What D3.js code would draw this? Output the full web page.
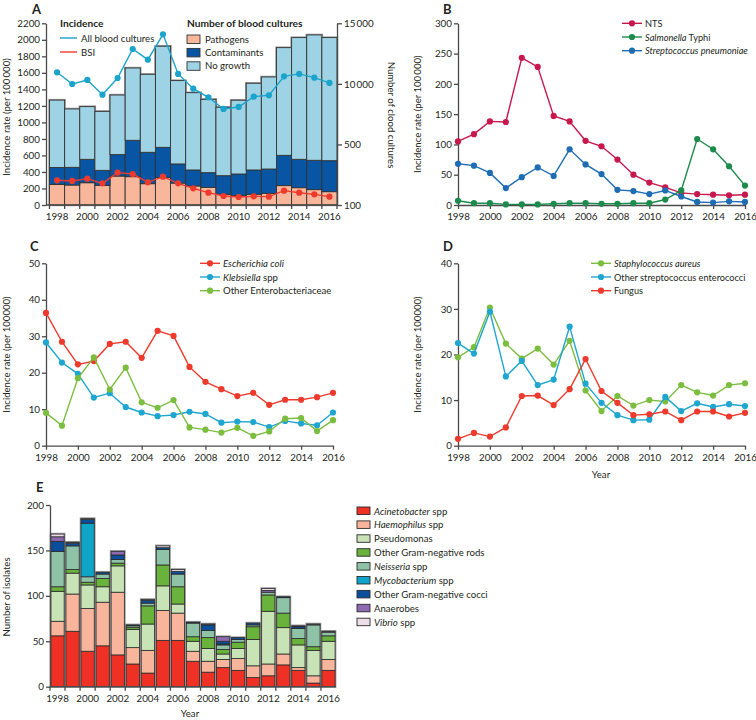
<!DOCTYPE html>
<html><head><meta charset="utf-8">
<script src="https://cdn.jsdelivr.net/npm/d3@7"></script>
<style>
body{margin:0;background:#fff}
svg text{font-family:Lato,"Open Sans",sans-serif;fill:#231f20}
.ax path,.ax line{stroke:#4a4a4a;stroke-width:1.3}
.ax text{font-size:9.8px}
</style></head><body>
<svg id="c" width="756" height="720"></svg>
<script>
// ---------- data ----------
const years = [1998,1999,2000,2001,2002,2003,2004,2005,2006,2007,2008,2009,2010,2011,2012,2013,2014,2015,2016];
const evenYears = [1998,2000,2002,2004,2006,2008,2010,2012,2014,2016];

// Panel A: number of blood cultures (right axis) and incidence (left axis)
const pathogens    = [1700,1650,1840,1620,2390,2340,1760,2280,1810,1570,1460,880,770,880,960,1600,1430,1270,1100];
const contaminants = [1400,1460,1930,1240,1770,3000,2590,2480,1580,1320,1210,1540,1790,2010,2010,2500,2340,2420,2560];
const noGrowth     = [5560,4820,4350,4870,4920,5970,6440,8350,6880,6380,6050,5650,6090,7160,7600,8890,10050,10350,10160];
const incAllCultures = [1607,1465,1514,1336,1538,1889,1760,2067,1587,1409,1304,1163,1187,1312,1328,1558,1587,1542,1478];
const incBSI         = [299,291,319,262,392,375,275,343,262,202,149,109,97,105,101,174,149,129,101];
const leftTicksA  = [0,200,400,600,800,1000,1200,1400,1600,1800,2000,2200];
const rightTickValsA = [0,5000,10000,15000];
const rightTickLabelsA = ["100","500","10\u2009000","15\u2009000"];

// Panel B
const nts    = [105,117,138,137,243,228,147,138,106,97,75,50,37,29,20,18,17,16,17];
const typhi  = [7,3,3,1,1,1,2,3,3,2,2,3,3,9,24,109,92,64,32];
const pneumo = [68,65,53,28,46,62,48,92,67,51,25,23,18,24,14,5,4,6,5];
const ticksB = [0,50,100,150,200,250,300];

// Panel C
const ecoli    = [36.4,28.5,22.3,23.2,27.9,28.5,24.1,31.5,30.1,21.6,17.5,15.5,13.6,14.5,11.2,12.6,12.6,13.3,14.5];
const kleb     = [28.3,22.8,19.7,13.2,14.4,10.6,9.1,8.1,8.4,9.3,8.7,6.3,6.6,6.5,5.1,6.8,6.1,5.6,9.1];
const otherEnt = [9.0,5.5,18.5,24.2,15.4,21.4,11.9,10.4,12.5,5.0,4.4,3.6,4.9,2.7,3.9,7.4,7.6,4.0,7.0];
const ticksC = [0,10,20,30,40,50];

// Panel D
const staph  = [19.4,21.6,30.3,22.4,19.1,21.3,17.8,23.0,12.1,7.6,10.9,8.8,10.0,9.7,13.3,11.7,11.0,13.3,13.7];
const strep  = [22.5,20.2,29.4,15.2,18.6,13.3,14.5,26.1,13.6,9.4,6.7,5.6,5.7,10.7,7.6,9.3,8.5,9.1,8.7];
const fungus = [1.5,2.8,2.0,4.0,10.9,11.0,8.9,12.4,19.0,12.0,9.4,6.7,6.9,7.5,5.6,7.5,7.5,6.4,7.2];
const ticksD = [0,10,20,30,40];

// Panel E: number of isolates
const acinetobacter = [56,61,39,45,35,25,15,51,51,28,16,21,18,10,12,24,18,4,18];
const haemophilus   = [16,41,47,48,69,18,25,33,30,11,12,9,13,13,13,12,3,8,12];
const pseudomonas   = [33,23,26,17,29,20,29,27,10,11,14,6,11,29,58,29,25,28,20];
const otherGNRods   = [5,4,3,9,3,2,20,23,19,5,12,5,7,14,18,16,7,4,6];
const neisseria     = [39,26,6,5,4,2,3,17,14,15,8,5,3,2,3,17,11,24,4];
const mycobacterium = [0,0,59,0,0,0,0,0,0,0,0,1,0,0,0,0,0,0,0];
const otherGNCocci  = [11,3,4,2,5,1,3,2,3,1,6,3,2,2,0,1,2,0,0];
const anaerobes     = [5,0,0,0,4,0,0,0,0,0,0,5,0,0,2,0,1,0,0];
const vibrio        = [3,1,1,0,0,0,1,2,2,0,1,0,0,0,2,0,0,1,1];
const ticksE = [0,50,100,150,200];

// ---------- drawing ----------
const svg = d3.select("#c");
const FS = 9.6;
const fmt = d3.format("d");

function styleAxis(g){ g.attr("class","ax"); return g; }
function label(x,y,t,opts={}){
  const el = svg.append("text").attr("x",x).attr("y",y).attr("font-size",opts.size||FS)
    .attr("font-weight",opts.bold?"bold":null).attr("text-anchor",opts.anchor||"start");
  if(opts.rot!==undefined) el.attr("transform",`rotate(${opts.rot},${x},${y})`);
  if(Array.isArray(t)) t.forEach(p=>el.append("tspan").attr("font-style",p.i?"italic":null).text(p.t));
  else el.text(t);
  return el;
}

// ===== Panel A =====
const xA = d3.scaleBand().domain(years).range([49.5,337]).padding(0);
const yA = d3.scaleLinear().domain([0,2200]).range([205,23.3]);
const yAR = d3.scaleLinear().domain([0,15000]).range([205,23.3]);
const tableA = years.map((y,i)=>({year:y,Pathogens:pathogens[i],Contaminants:contaminants[i],"No growth":noGrowth[i]}));
const keysA = ["Pathogens","Contaminants","No growth"];
const colA = {"Pathogens":"#f8b69b","Contaminants":"#0755a3","No growth":"#9ed3e5"};
const stackA = d3.stack().keys(keysA)(tableA);
const gA = svg.append("g");
gA.selectAll("rect.o").data(tableA).join("rect")
  .attr("x",d=>xA(d.year)).attr("width",xA.bandwidth())
  .attr("y",d=>yAR(d.Pathogens+d.Contaminants+d["No growth"]))
  .attr("height",d=>yAR(0)-yAR(d.Pathogens+d.Contaminants+d["No growth"]))
  .attr("fill","none").attr("stroke","#9a9a9a").attr("stroke-width",2.4);
stackA.forEach(s=>{
  gA.selectAll(null).data(s).join("rect")
    .attr("x",d=>xA(d.data.year)).attr("width",xA.bandwidth())
    .attr("y",d=>yAR(d[1])).attr("height",d=>yAR(d[0])-yAR(d[1]))
    .attr("fill",colA[s.key]).attr("stroke","#333").attr("stroke-width",0.9);
});
styleAxis(svg.append("g").attr("transform","translate(46,0)"))
  .call(d3.axisLeft(yA).tickValues(leftTicksA).tickFormat(fmt).tickSize(4).tickPadding(2).tickSizeOuter(0));
styleAxis(svg.append("g").attr("transform","translate(337,0)"))
  .call(d3.axisRight(yAR).tickValues(rightTickValsA).tickFormat((d,i)=>rightTickLabelsA[i]).tickSize(5).tickPadding(2).tickSizeOuter(0));
const xAxA = styleAxis(svg.append("g").attr("transform","translate(0,205)"));
xAxA.call(d3.axisBottom(xA).tickValues(evenYears).tickSize(0).tickPadding(8).tickSizeOuter(0));
xAxA.select("path.domain").attr("d","M46,0H337");
xAxA.selectAll("line.bt").data(years.concat([2017])).join("line").attr("class","bt")
  .attr("x1",d=>d===2017?337:xA(d)).attr("x2",d=>d===2017?337:xA(d)).attr("y1",0).attr("y2",4)
  .attr("stroke","#4a4a4a").attr("stroke-width",1.2);
const cxA = d=>xA(d)+xA.bandwidth()/2;
function drawLine(g,xs,ys,vals,color){
  const pts = vals.map((v,i)=>[xs(years[i]),ys(v)]);
  g.append("path").attr("d",d3.line()(pts)).attr("fill","none").attr("stroke",color).attr("stroke-width",1.4);
  g.selectAll(null).data(pts).join("circle").attr("cx",d=>d[0]).attr("cy",d=>d[1]).attr("r",3.1).attr("fill",color);
}
drawLine(gA,cxA,yA,incAllCultures,"#1ba4cb");
drawLine(gA,cxA,yA,incBSI,"#ee3a2c");
label(32,14,"A",{bold:true,size:13});
label(60,27,"Incidence",{bold:true,size:10.2});
[["All blood cultures","#1ba4cb",38],["BSI","#ee3a2c",52]].forEach(([t,c,y])=>{
  svg.append("line").attr("x1",60).attr("x2",77).attr("y1",y).attr("y2",y).attr("stroke",c).attr("stroke-width",1.4);
  label(81,y+3.5,t);
});
label(187,27,"Number of blood cultures",{bold:true,size:10.2});
keysA.forEach((k,i)=>{
  const y = 35+i*13.4;
  svg.append("rect").attr("x",187).attr("y",y).attr("width",13).attr("height",8.5).attr("fill",colA[k]).attr("stroke","#333").attr("stroke-width",0.9);
  label(205,y+7.6,k);
});
label(10,117,"Incidence rate (per 100\u2009000)",{rot:-90,anchor:"middle"});
label(388,115,"Number of clood cultures",{rot:90,anchor:"middle"});

function linePanel(xr,yr,dom,ticks,series,ylab,ylabX,letter,letterPos,legend){
  const x = d3.scaleLinear().domain([1998,2016]).range(xr);
  const y = d3.scaleLinear().domain(dom).range(yr);
  styleAxis(svg.append("g").attr("transform",`translate(${xr[0]},0)`))
    .call(d3.axisLeft(y).tickValues(ticks).tickFormat(fmt).tickSize(4).tickPadding(2).tickSizeOuter(0));
  styleAxis(svg.append("g").attr("transform",`translate(0,${yr[0]})`))
    .call(d3.axisBottom(x).tickValues(evenYears).tickFormat(fmt).tickSize(4).tickPadding(4).tickSizeOuter(0));
  const g = svg.append("g");
  series.forEach(s=>drawLine(g,x,y,s.v,s.c));
  label(letterPos[0],letterPos[1],letter,{bold:true,size:13});
  label(ylabX,(yr[0]+yr[1])/2,ylab,{rot:-90,anchor:"middle"});
  series.forEach((s,i)=>{
    const ly = legend.y+i*13.7;
    svg.append("line").attr("x1",legend.x).attr("x2",legend.x+20).attr("y1",ly).attr("y2",ly).attr("stroke",s.c).attr("stroke-width",1.4);
    svg.append("circle").attr("cx",legend.x+10).attr("cy",ly).attr("r",3.1).attr("fill",s.c);
    label(legend.x+23,ly+3.5,s.name,{size:legend.fs||FS});
  });
}
linePanel([458,745],[205,23.3],[0,300],ticksB,[
  {v:nts,c:"#c8174c",name:"NTS"},
  {v:typhi,c:"#1c8b4c",name:[{t:"Salmonella",i:1},{t:" Typhi"}]},
  {v:pneumo,c:"#1e6db4",name:[{t:"Streptococcus pneumoniae",i:1}]}
],"Incidence rate (per 100\u2009000)",421,"B",[443,14],{x:622,y:23.3,fs:9.2});

linePanel([46,333],[445.7,263.3],[0,50],ticksC,[
  {v:ecoli,c:"#ee3a2c",name:[{t:"Escherichia coli",i:1}]},
  {v:kleb,c:"#1fa6d0",name:[{t:"Klebsiella",i:1},{t:" spp"}]},
  {v:otherEnt,c:"#7bbe3f",name:"Other Enterobacteriaceae"}
],"Incidence rate (per 100000)",10,"C",[30,251],{x:200,y:263.3});

linePanel([458,745],[445.7,263.3],[0,40],ticksD,[
  {v:staph,c:"#7bbe3f",name:[{t:"Staphylococcus aureus",i:1}]},
  {v:strep,c:"#1fa6d0",name:"Other streptococcus enterococci"},
  {v:fungus,c:"#ee3a2c",name:"Fungus"}
],"Incidence rate (per 100000)",421,"D",[443,251],{x:591,y:263.3,fs:9.2});
label(601,478,"Year",{anchor:"middle"});

// ===== Panel E =====
const xE = d3.scaleBand().domain(years).range([50,336]).paddingInner(0.12).paddingOuter(0.06);
const yE = d3.scaleLinear().domain([0,200]).range([686.7,505]);
const keysE = ["Acinetobacter spp","Haemophilus spp","Pseudomonas","Other Gram-negative rods","Neisseria spp","Mycobacterium spp","Other Gram-negative cocci","Anaerobes","Vibrio spp"];
const seriesE = [acinetobacter,haemophilus,pseudomonas,otherGNRods,neisseria,mycobacterium,otherGNCocci,anaerobes,vibrio];
const colE = ["#ee3124","#f9b59b","#c8e3b5","#69b23c","#8fc3a8","#0ea5c9","#0b4e9b","#8e6ab1","#ecdde9"];
const tableE = years.map((y,i)=>{const o={year:y}; keysE.forEach((k,j)=>o[k]=seriesE[j][i]); return o;});
const stackE = d3.stack().keys(keysE)(tableE);
const gE = svg.append("g");
const totE = d=>keysE.reduce((a,k)=>a+d[k],0);
gE.selectAll("rect.o").data(tableE).join("rect")
  .attr("x",d=>xE(d.year)).attr("width",xE.bandwidth())
  .attr("y",d=>yE(totE(d))).attr("height",d=>yE(0)-yE(totE(d)))
  .attr("fill","none").attr("stroke","#9a9a9a").attr("stroke-width",2.6);
stackE.forEach((s,j)=>{
  gE.selectAll(null).data(s.filter(d=>d[1]>d[0])).join("rect")
    .attr("x",d=>xE(d.data.year)).attr("width",xE.bandwidth())
    .attr("y",d=>yE(d[1])).attr("height",d=>yE(d[0])-yE(d[1]))
    .attr("fill",colE[j]).attr("stroke","#2a2a2a").attr("stroke-width",0.8);
});
styleAxis(svg.append("g").attr("transform","translate(50,0)"))
  .call(d3.axisLeft(yE).tickValues(ticksE).tickFormat(fmt).tickSize(4).tickPadding(2).tickSizeOuter(0));
const xAxE = styleAxis(svg.append("g").attr("transform","translate(0,686.7)"));
xAxE.call(d3.axisBottom(xE).tickValues(evenYears).tickSize(0).tickPadding(8).tickSizeOuter(0));
xAxE.select("path.domain").attr("d","M50,0H336");
xAxE.selectAll("line.bt").data(years).join("line").attr("class","bt")
  .attr("x1",d=>xE(d)-xE.step()*0.06).attr("x2",d=>xE(d)-xE.step()*0.06).attr("y1",0).attr("y2",4)
  .attr("stroke","#4a4a4a").attr("stroke-width",1.2);
label(36,492,"E",{bold:true,size:13});
label(10,597,"Number of isolates",{rot:-90,anchor:"middle"});
label(190,717,"Year",{anchor:"middle"});
const legNames = [
  [{t:"Acinetobacter",i:1},{t:" spp"}],
  [{t:"Haemophilus",i:1},{t:" spp"}],
  "Pseudomonas","Other Gram-negative rods",
  [{t:"Neisseria",i:1},{t:" spp"}],
  [{t:"Mycobacterium",i:1},{t:" spp"}],
  "Other Gram-negative cocci","Anaerobes",
  [{t:"Vibrio",i:1},{t:" spp"}]
];
legNames.forEach((n,i)=>{
  const cy = 511+i*13.9;
  svg.append("rect").attr("x",357).attr("y",cy-4).attr("width",13).attr("height",7.5).attr("fill",colE[i]).attr("stroke","#2a2a2a").attr("stroke-width",0.9);
  label(374,cy+3.5,n);
});
</script></body></html>
